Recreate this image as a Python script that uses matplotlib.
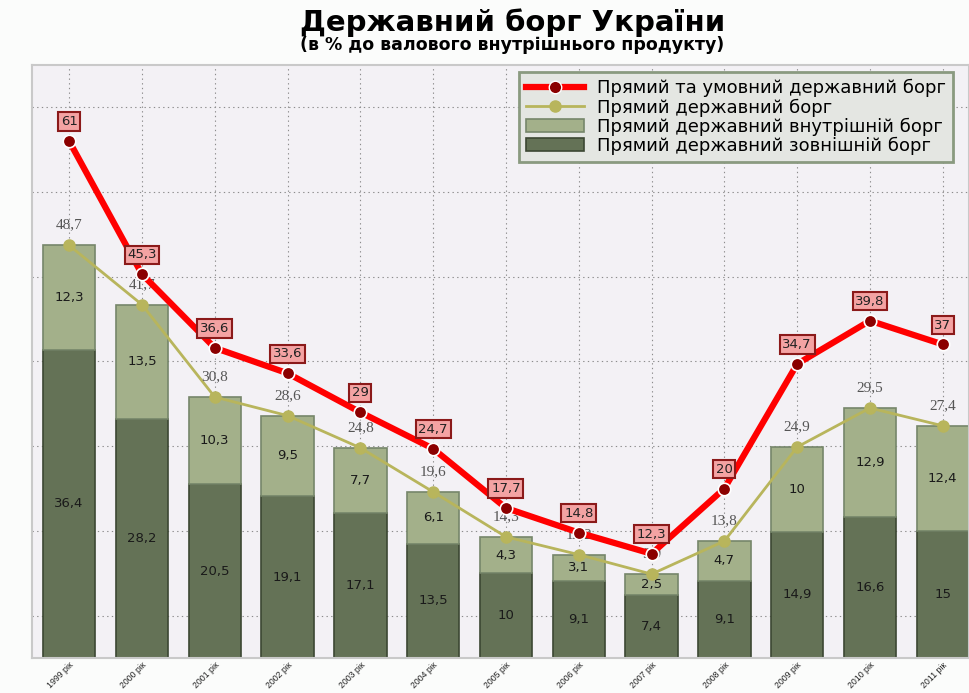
import matplotlib
matplotlib.use("Agg")
import matplotlib.pyplot as plt
import numpy as np
from matplotlib.lines import Line2D
from matplotlib.patches import Patch

years = ["1999 рік", "2000 рік", "2001 рік", "2002 рік", "2003 рік", "2004 рік", "2005 рік",
         "2006 рік", "2007 рік", "2008 рік", "2009 рік", "2010 рік", "2011 рік"]
external = [36.4, 28.2, 20.5, 19.1, 17.1, 13.5, 10, 9.1, 7.4, 9.1, 14.9, 16.6, 15]
internal = [12.3, 13.5, 10.3, 9.5, 7.7, 6.1, 4.3, 3.1, 2.5, 4.7, 10, 12.9, 12.4]
direct = [48.7, 41.7, 30.8, 28.6, 24.8, 19.6, 14.3, 12.2, 9.9, 13.8, 24.9, 29.5, 27.4]
total = [61, 45.3, 36.6, 33.6, 29, 24.7, 17.7, 14.8, 12.3, 20, 34.7, 39.8, 37]

def fmt(v):
    s = ("%g" % v)
    return s.replace(".", ",")

plt.rcParams['font.family'] = ['DejaVu Sans']

fig = plt.figure(figsize=(9.69, 6.93), dpi=100, facecolor="#fbfcfb")
ax = fig.add_axes([0.033, 0.0505, 0.967, 0.856])
ax.set_facecolor("#f3f1f5")

x = np.arange(len(years))
w = 0.72
ax.bar(x, external, w, color="#647256", edgecolor="#3c4733", linewidth=1.2, zorder=2,
       label="Прямий державний зовнішній борг")
ax.bar(x, internal, w, bottom=external, color="#a3b08a", edgecolor="#76866a", linewidth=1.2,
       zorder=2, label="Прямий державний внутрішній борг")

for xi, e, i in zip(x, external, internal):
    ax.text(xi, e / 2, fmt(e), ha="center", va="center", fontsize=9.5, color="#1a1a1a", zorder=3)
    ax.text(xi, e + i / 2, fmt(i), ha="center", va="center", fontsize=9.5, color="#1a1a1a", zorder=3)

ax.plot(x, direct, color="#b8b55c", lw=2, marker="o", ms=8, mfc="#b8b55c", mec="#b8b55c",
        zorder=4, label="Прямий державний борг")
for xi, d in zip(x, direct):
    ax.annotate(fmt(d), (xi, d), xytext=(0, 10), textcoords="offset points", ha="center",
                va="bottom", fontsize=11, color="#555555", family=["Liberation Serif", "DejaVu Serif"],
                zorder=5)

ax.plot(x, total, color="#ff0000", lw=4.5, marker="o", ms=9, mfc="#8b0000", mec="white",
        mew=1.2, zorder=6, label="Прямий та умовний державний борг")
for xi, t in zip(x, total):
    ax.annotate(fmt(t), (xi, t), xytext=(0, 14), textcoords="offset points", ha="center",
                va="center", fontsize=9.5, color="#222222", zorder=7,
                bbox=dict(boxstyle="square,pad=0.2", fc="#f4a3a3", ec="#8b1a1a", lw=1.5))

ax.set_xlim(-0.51, 12.36)
ax.set_ylim(0, 70)
ax.set_yticks(np.arange(5, 70, 10))
ax.set_yticklabels([])
ax.tick_params(axis="y", length=0)
ax.set_xticks(x)
ax.set_xticklabels(years, rotation=45, ha="right", fontsize=6.3, color="#222222",
                   rotation_mode="anchor", family=["Liberation Sans", "DejaVu Sans"])
ax.tick_params(axis="x", length=0, pad=2)
ax.grid(True, color="#8c8c8c", linestyle=(0, (1.2, 3)), linewidth=0.8, zorder=0)
ax.set_axisbelow(True)
for s in ax.spines.values():
    s.set_color("#c9c9c9")
    s.set_linewidth(1.5)

handles = [
    Line2D([0], [0], color="#ff0000", lw=4.5, marker="o", ms=9, mfc="#8b0000", mec="white"),
    Line2D([0], [0], color="#b8b55c", lw=2, marker="o", ms=8, mfc="#b8b55c", mec="#b8b55c"),
    Patch(fc="#a3b08a", ec="#76866a", lw=1.2),
    Patch(fc="#647256", ec="#3c4733", lw=1.2),
]
labels = ["Прямий та умовний державний борг", "Прямий державний борг",
          "Прямий державний внутрішній борг", "Прямий державний зовнішній борг"]
leg = ax.legend(handles, labels, loc="upper right", bbox_to_anchor=(0.983, 0.988), fontsize=13,
                frameon=True, fancybox=False, framealpha=1, edgecolor="#8a9a80",
                facecolor="#e4e6e2", borderpad=0.4, labelspacing=0.05, handlelength=3.2,
                handletextpad=0.7, borderaxespad=0)
leg.get_frame().set_linewidth(2)
leg.set_zorder(10)

fig.text(0.529, 0.968, "Державний борг України", ha="center", va="center", fontsize=21,
         fontweight="bold")
fig.text(0.528, 0.935, "(в % до валового внутрішнього продукту)", ha="center", va="center",
         fontsize=12.5, fontweight="bold")

fig.savefig("out.png", dpi=100, facecolor=fig.get_facecolor())
